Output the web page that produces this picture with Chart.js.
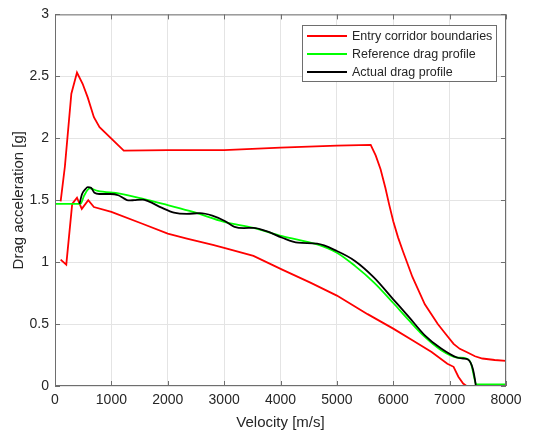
<!DOCTYPE html>
<html>
<head>
<meta charset="utf-8">
<script src="https://cdn.jsdelivr.net/npm/chart.js@4.4.0/dist/chart.umd.min.js"></script>
<style>
  html, body { margin: 0; padding: 0; background: #ffffff; }
  #wrap { width: 549px; height: 436px; }
</style>
</head>
<body>
<div id="wrap"><canvas id="c" width="549" height="436"></canvas></div>
<script>
// Entry corridor: upper boundary (velocity m/s, drag g)
const upperV = [100, 175, 290, 390, 490, 580, 690, 790, 1220, 2000, 3000, 4000, 5000, 5600, 5690, 5775, 5860, 5930, 6000, 6085, 6170, 6340, 6560, 6790, 6930, 7070, 7180, 7300, 7450, 7580, 7800, 8000];
const upperG = [1.49, 1.77, 2.36, 2.53, 2.44, 2.33, 2.17, 2.09, 1.90, 1.905, 1.905, 1.925, 1.94, 1.946, 1.86, 1.75, 1.60, 1.46, 1.33, 1.20, 1.09, 0.88, 0.66, 0.50, 0.42, 0.34, 0.30, 0.275, 0.24, 0.222, 0.21, 0.203];

// Entry corridor: lower boundary
const lowerV = [100, 200, 305, 390, 475, 590, 690, 1000, 1550, 2000, 2340, 2800, 3000, 3520, 4030, 4530, 5000, 5545, 6000, 6340, 6680, 6960, 7070, 7155, 7240, 7300, 8000];
const lowerG = [1.02, 0.98, 1.47, 1.52, 1.43, 1.50, 1.445, 1.405, 1.31, 1.23, 1.19, 1.14, 1.115, 1.05, 0.94, 0.835, 0.73, 0.58, 0.463, 0.369, 0.275, 0.18, 0.155, 0.075, 0.02, 0, 0];

// Reference drag profile
const refV = [0, 450, 520, 616, 757, 1150, 1550, 2000, 2450, 3000, 3520, 4030, 4650, 5000, 5320, 5660, 6000, 6280, 6560, 6850, 7130, 7300, 7380, 7440, 7470, 8000];
const refG = [1.47, 1.47, 1.54, 1.595, 1.575, 1.553, 1.513, 1.46, 1.405, 1.325, 1.277, 1.21, 1.143, 1.076, 0.97, 0.835, 0.67, 0.529, 0.396, 0.289, 0.23, 0.222, 0.18, 0.06, 0.013, 0.013];

// Actual (flown) drag profile
const actV = [435, 480, 540, 580, 640, 700, 785, 980, 1120, 1220, 1300, 1400, 1550, 1660, 1890, 2110, 2340, 2570, 2790, 3020, 3185, 3350, 3520, 3750, 4030, 4310, 4650, 5000, 5320, 5660, 6000, 6280, 6560, 6850, 7130, 7240, 7325, 7410, 7450, 7465];
const actG = [1.47, 1.55, 1.59, 1.605, 1.60, 1.56, 1.55, 1.55, 1.54, 1.515, 1.498, 1.50, 1.505, 1.49, 1.44, 1.40, 1.39, 1.395, 1.375, 1.33, 1.285, 1.275, 1.277, 1.25, 1.197, 1.157, 1.149, 1.09, 1.01, 0.875, 0.70, 0.556, 0.409, 0.302, 0.23, 0.222, 0.214, 0.142, 0.05, 0];

// Axis tick values
const xTicks = [0, 1000, 2000, 3000, 4000, 5000, 6000, 7000, 8000];
const yTicks = [0, 0.5, 1, 1.5, 2, 2.5, 3];

const legendItems = [
  { text: 'Entry corridor boundaries', color: '#ff0000' },
  { text: 'Reference drag profile', color: '#00ff00' },
  { text: 'Actual drag profile', color: '#000000' }
];

const FONT = "'Liberation Sans', Arial, Helvetica, sans-serif";
const TEXT = '#262626';
Chart.defaults.font.family = FONT;

const pts = (vs, gs) => vs.map((v, i) => ({ x: v, y: gs[i] }));

// Box around the axes with inward tick marks on all four sides
const axesBox = {
  id: 'axesBox',
  afterDatasetsDraw(chart) {
    const { ctx, chartArea: { left, right, top, bottom }, scales: { x, y } } = chart;
    ctx.save();
    ctx.strokeStyle = '#6e6e6e';
    ctx.lineWidth = 1;
    ctx.beginPath();
    ctx.rect(left + 0.5, top + 0.5, right - left - 1, bottom - top - 1);
    const tl = 5;
    xTicks.forEach(v => {
      const px = Math.round(x.getPixelForValue(v)) + 0.5;
      ctx.moveTo(px, bottom); ctx.lineTo(px, bottom - tl);
      ctx.moveTo(px, top); ctx.lineTo(px, top + tl);
    });
    yTicks.forEach(v => {
      const py = Math.round(y.getPixelForValue(v)) + 0.5;
      ctx.moveTo(left, py); ctx.lineTo(left + tl, py);
      ctx.moveTo(right, py); ctx.lineTo(right - tl, py);
    });
    ctx.stroke();
    ctx.restore();
  }
};

// Framed legend in the upper-right corner of the plot area
const boxedLegend = {
  id: 'boxedLegend',
  afterDraw(chart) {
    const { ctx, chartArea } = chart;
    const w = 194, h = 56;
    const bx = Math.round(chartArea.right - 10 - w), by = Math.round(chartArea.top + 11);
    ctx.save();
    ctx.fillStyle = '#ffffff';
    ctx.fillRect(bx, by, w, h);
    ctx.strokeStyle = '#6e6e6e';
    ctx.lineWidth = 1;
    ctx.strokeRect(bx + 0.5, by + 0.5, w, h);
    ctx.font = '12.5px ' + FONT;
    ctx.textBaseline = 'middle';
    ctx.textAlign = 'left';
    legendItems.forEach((it, i) => {
      const cy = by + 11 + i * 18;
      ctx.strokeStyle = it.color;
      ctx.lineWidth = 1.8;
      ctx.beginPath();
      ctx.moveTo(bx + 5, cy);
      ctx.lineTo(bx + 45, cy);
      ctx.stroke();
      ctx.fillStyle = TEXT;
      ctx.fillText(it.text, bx + 50, cy + 0.5);
    });
    ctx.restore();
  }
};

new Chart(document.getElementById('c'), {
  type: 'line',
  data: {
    datasets: [
      { label: 'Actual drag profile', data: pts(actV, actG), borderColor: '#000000', borderWidth: 1.8, cubicInterpolationMode: 'monotone', order: 1 },
      { label: 'Reference drag profile', data: pts(refV, refG), borderColor: '#00ff00', borderWidth: 1.8, cubicInterpolationMode: 'monotone', order: 2 },
      { label: 'Entry corridor boundaries', data: pts(upperV, upperG), borderColor: '#ff0000', borderWidth: 1.8, tension: 0, order: 3 },
      { label: 'Entry corridor lower', data: pts(lowerV, lowerG), borderColor: '#ff0000', borderWidth: 1.8, tension: 0, order: 3 }
    ]
  },
  options: {
    responsive: false,
    animation: false,
    layout: { padding: { top: 12, right: 43, left: 0, bottom: 0 } },
    elements: { point: { radius: 0 } },
    plugins: { legend: { display: false }, tooltip: { enabled: false } },
    scales: {
      x: {
        type: 'linear', min: 0, max: 8000,
        afterBuildTicks: s => { s.ticks = xTicks.map(v => ({ value: v })); },
        afterFit: s => { s.height = 50; },
        ticks: { padding: 6, color: TEXT, font: { size: 14 }, maxRotation: 0, autoSkip: false, callback: v => String(v) },
        grid: { color: '#e4e4e4', drawTicks: false },
        border: { display: false },
        title: { display: true, text: 'Velocity [m/s]', color: TEXT, font: { size: 15 }, padding: { top: 0, bottom: 4 } }
      },
      y: {
        type: 'linear', min: 0, max: 3,
        afterBuildTicks: s => { s.ticks = yTicks.map(v => ({ value: v })); },
        afterFit: s => { s.width = 55; },
        ticks: { padding: 6, color: TEXT, font: { size: 14 }, autoSkip: false, callback: v => String(v) },
        grid: { color: '#e4e4e4', drawTicks: false },
        border: { display: false },
        title: { display: true, text: 'Drag acceleration [g]', color: TEXT, font: { size: 15 }, padding: { top: 10, bottom: 0 } }
      }
    }
  },
  plugins: [axesBox, boxedLegend]
});
</script>
</body>
</html>
